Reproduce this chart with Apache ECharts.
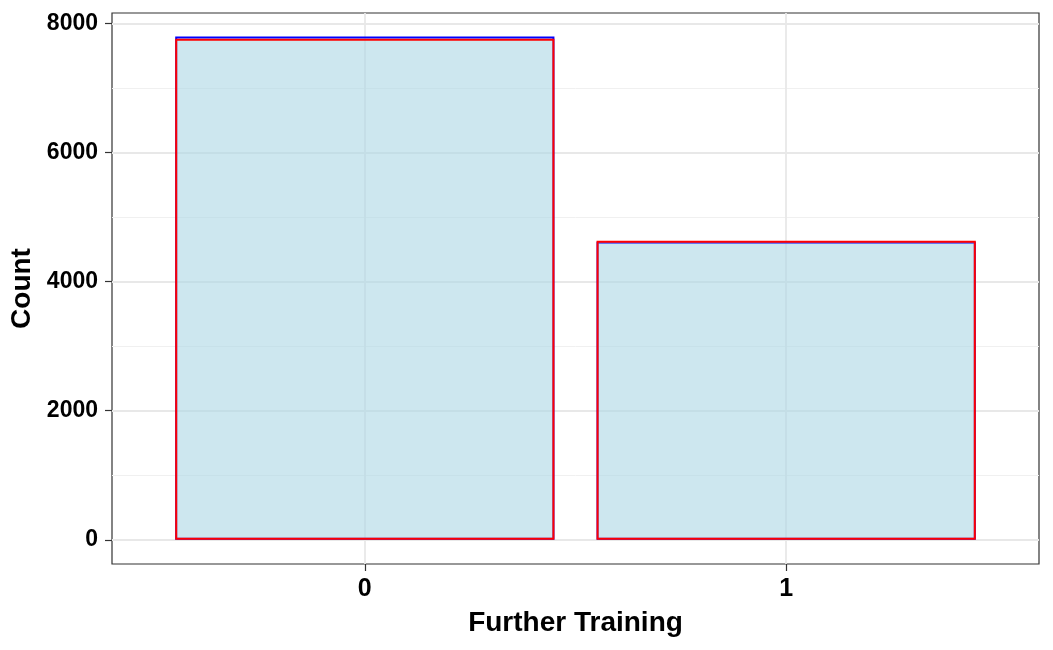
<!DOCTYPE html>
<html>
<head>
<meta charset="utf-8">
<script src="https://cdn.jsdelivr.net/npm/echarts@6/dist/echarts.min.js"></script>
<style>
  html, body { margin: 0; padding: 0; background: #fff; }
  #chart-container { width: 1053px; height: 650px; }
</style>
</head>
<body>
<div id="chart-container"></div>
<script>
// categories on the x axis (placed at positions 0, 1)
const categories = ['0', '1'];
// two overlaid bar layers
const blueCounts = [7797, 4618];
const redCounts = [7760, 4633];
// y tick labels and minor gridline positions
const yTicks = [0, 2000, 4000, 6000, 8000];
const yMinor = [1000, 3000, 5000, 7000];

const chartDom = document.getElementById('chart-container');
const myChart = echarts.init(chartDom);

const font = 'Liberation Sans, Arial, Helvetica, sans-serif';
const xPos = categories.map((c, i) => i);
const toPairs = vals => vals.map((v, i) => [xPos[i], v]);

const option = {
    backgroundColor: '#fff',
    animation: false,
    grid: {
        left: 112,
        right: 14,
        top: 13,
        bottom: 86,
        containLabel: false,
        outerBoundsMode: 'none',
        show: true,
        borderColor: '#333',
        borderWidth: 1.2
    },
    xAxis: {
        type: 'value',
        min: -0.6,
        max: 1.6,
        name: 'Further Training',
        nameLocation: 'middle',
        nameGap: 45,
        nameTextStyle: { fontFamily: font, fontWeight: 'bold', fontSize: 28, color: '#000' },
        axisLine: { show: false, onZero: false },
        axisTick: {
            show: true,
            customValues: xPos,
            length: 7,
            lineStyle: { color: '#333', width: 1.2 }
        },
        axisLabel: {
            customValues: xPos,
            margin: 13,
            fontFamily: font,
            fontWeight: 'bold',
            fontSize: 25,
            color: '#000',
            formatter: v => categories[Math.round(v)]
        },
        splitLine: { show: true, lineStyle: { color: '#e8e8e8', width: 1.8 } }
    },
    yAxis: [
        {
            type: 'value',
            min: -375,
            max: 8160,
            name: 'Count',
            nameLocation: 'middle',
            nameGap: 63,
            nameTextStyle: { fontFamily: font, fontWeight: 'bold', fontSize: 28, color: '#000' },
            axisLine: { show: false, onZero: false },
            axisTick: {
                show: true,
                customValues: yTicks,
                length: 7,
                lineStyle: { color: '#333', width: 1.2 }
            },
            axisLabel: {
                customValues: yTicks,
                margin: 14,
                fontFamily: font,
                fontWeight: 'bold',
                fontSize: 23,
                color: '#000',
                formatter: v => String(v)
            },
            splitLine: { show: true, lineStyle: { color: '#e8e8e8', width: 1.8 } }
        },
        {
            // minor gridlines only
            type: 'value',
            min: -375,
            max: 8160,
            position: 'left',
            axisLine: { show: false, onZero: false },
            axisTick: { show: false, customValues: yMinor },
            axisLabel: { show: false, customValues: yMinor },
            splitLine: { show: true, lineStyle: { color: '#f0f0f0', width: 1 } }
        }
    ],
    series: [
        {
            name: 'blue',
            type: 'bar',
            data: toPairs(blueCounts),
            barWidth: '90%',
            barGap: '-100%',
            itemStyle: {
                color: 'rgba(173,216,230,0.38)',
                borderColor: '#0000ff',
                borderWidth: 2
            }
        },
        {
            name: 'red',
            type: 'bar',
            data: toPairs(redCounts),
            barWidth: '90%',
            barGap: '-100%',
            itemStyle: {
                color: 'rgba(173,216,230,0.38)',
                borderColor: '#ff0000',
                borderWidth: 2
            }
        }
    ]
};

myChart.setOption(option);
</script>
</body>
</html>
